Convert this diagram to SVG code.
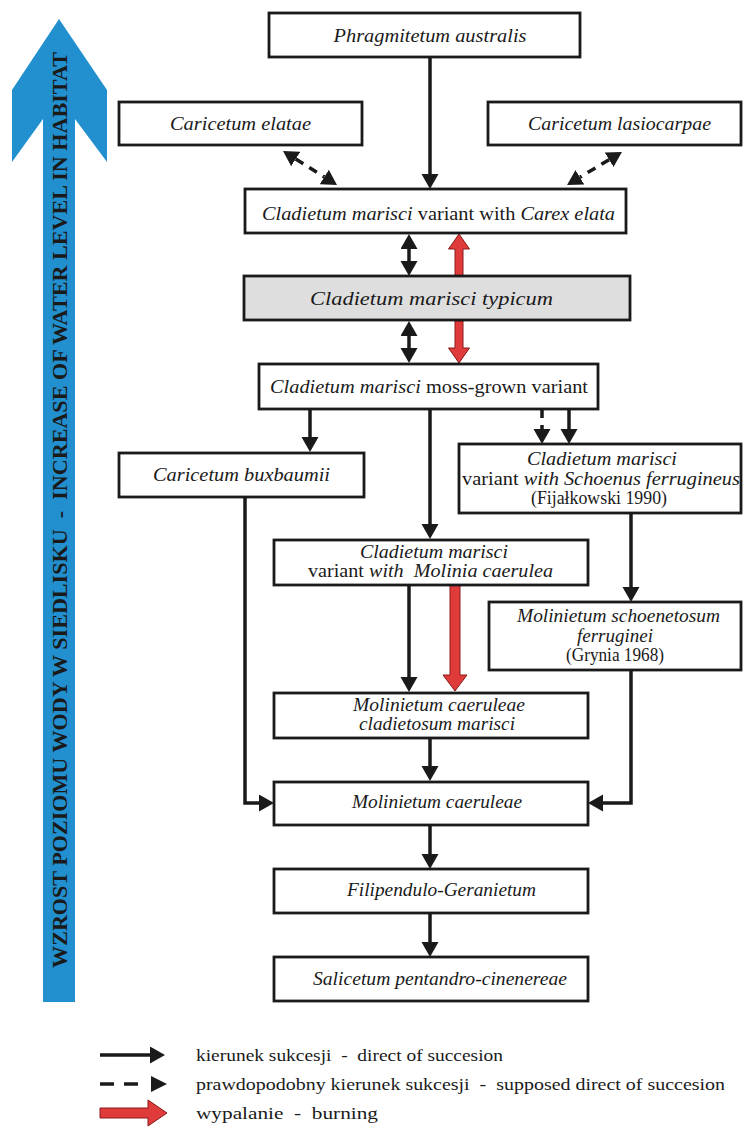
<svg xmlns="http://www.w3.org/2000/svg" width="743" height="1127" viewBox="0 0 743 1127" font-family="'Liberation Serif', 'DejaVu Serif', serif">
<style>
.box{fill:#fff;stroke:#1a1a1a;stroke-width:2.8}
.gbox{fill:#dedede;stroke:#1a1a1a;stroke-width:2.8}
.t{font-size:19px;text-anchor:middle;font-style:italic;fill:#1a1a1a}
.r{font-style:normal}
.i{font-style:italic}
.ln{stroke:#1a1a1a;stroke-width:3.5;fill:none}
.dash{stroke:#1a1a1a;stroke-width:3.5;fill:none;stroke-dasharray:9,7}
.red{fill:#e03b3b;stroke:#8a1a1a;stroke-width:1}
.leg{font-size:17px;fill:#1a1a1a;white-space:pre}
</style>
<defs>
<marker id="ah" markerWidth="16" markerHeight="18" refX="0" refY="8.5" orient="auto-start-reverse" markerUnits="userSpaceOnUse"><path d="M0,0 L15,8.5 L0,17 z" fill="#1a1a1a"/></marker>
</defs>

<g id="water-level-arrow">
<polygon points="59,19 107,90 107,162 75,119 75,1002 43,1002 43,119 12,162 12,90" fill="#2290cf"/>
<text transform="translate(67,510) rotate(-90)" text-anchor="middle" font-family="'Liberation Serif', 'DejaVu Serif', serif" font-size="21" font-weight="bold" fill="#1a1a1a" textLength="916" lengthAdjust="spacingAndGlyphs" xml:space="preserve">WZROST POZIOMU WODY W SIEDLISKU  -  INCREASE OF WATER LEVEL IN HABITAT</text>
</g>

<g id="connectors">
<line class="ln" x1="430" y1="57" x2="430" y2="174" marker-end="url(#ah)"/>
<line class="dash" x1="295.7" y1="159" x2="324.3" y2="177" stroke-dasharray="8,6" marker-start="url(#ah)" marker-end="url(#ah)"/>
<line class="dash" x1="609.1" y1="159.7" x2="579.9" y2="177.3" stroke-dasharray="8,6" marker-start="url(#ah)" marker-end="url(#ah)"/>
<line class="ln" x1="409" y1="249" x2="409" y2="261" marker-start="url(#ah)" marker-end="url(#ah)"/>
<polygon class="red" points="455,276 463,276 463,249 469.5,249 459,234 448.5,249 455,249"/>
<line class="ln" x1="409" y1="336" x2="409" y2="348" marker-start="url(#ah)" marker-end="url(#ah)"/>
<polygon class="red" points="455,321 463,321 463,348 469.5,348 459,363 448.5,348 455,348"/>
<line class="ln" x1="310" y1="409" x2="310" y2="437" marker-end="url(#ah)"/>
<line class="ln" x1="430" y1="409" x2="430" y2="524" marker-end="url(#ah)"/>
<line class="dash" x1="542" y1="409" x2="542" y2="429" stroke-dasharray="7,6" marker-end="url(#ah)"/>
<line class="ln" x1="569" y1="409" x2="569" y2="429" marker-end="url(#ah)"/>
<line class="ln" x1="631" y1="513" x2="631" y2="587" marker-end="url(#ah)"/>
<line class="ln" x1="409" y1="585" x2="409" y2="677" marker-end="url(#ah)"/>
<polygon class="red" points="450,585 460,585 460,675 467,675 455,691 443,675 450,675"/>
<line class="ln" x1="430" y1="738" x2="430" y2="766" marker-end="url(#ah)"/>
<polyline class="ln" points="245,497 245,803 259,803" marker-end="url(#ah)"/>
<polyline class="ln" points="631,670 631,803 603,803" marker-end="url(#ah)"/>
<line class="ln" x1="430" y1="825" x2="430" y2="854" marker-end="url(#ah)"/>
<line class="ln" x1="430" y1="913" x2="430" y2="942" marker-end="url(#ah)"/>
</g>

<g id="n-phragmitetum"><rect class="box" x="269" y="13" width="311" height="44"/><text class="t" x="430" y="42" textLength="193" lengthAdjust="spacingAndGlyphs">Phragmitetum australis</text></g>
<g id="n-caricetum-elatae"><rect class="box" x="119" y="102" width="243" height="43"/><text class="t" x="240.5" y="130" textLength="141" lengthAdjust="spacingAndGlyphs">Caricetum elatae</text></g>
<g id="n-caricetum-lasiocarpae"><rect class="box" x="488" y="102" width="253" height="43"/><text class="t" x="619.5" y="130" textLength="183" lengthAdjust="spacingAndGlyphs">Caricetum lasiocarpae</text></g>
<g id="n-carex-elata"><rect class="box" x="245" y="189" width="381" height="44"/><text class="t" x="438.5" y="220" textLength="353" lengthAdjust="spacingAndGlyphs"><tspan class="i">Cladietum marisci</tspan><tspan class="r"> variant with </tspan><tspan class="i">Carex elata</tspan></text></g>
<g id="n-typicum"><rect class="gbox" x="244" y="276" width="386" height="44"/><text class="t" x="431.5" y="305" font-size="22" textLength="243" lengthAdjust="spacingAndGlyphs">Cladietum marisci typicum</text></g>
<g id="n-moss-grown"><rect class="box" x="259" y="364" width="339" height="45"/><text class="t" x="429" y="393" textLength="318" lengthAdjust="spacingAndGlyphs"><tspan class="i">Cladietum marisci</tspan><tspan class="r"> moss-grown variant</tspan></text></g>
<g id="n-buxbaumii"><rect class="box" x="119" y="453" width="245" height="44"/><text class="t" x="241.5" y="481" textLength="177" lengthAdjust="spacingAndGlyphs">Caricetum buxbaumii</text></g>
<g id="n-schoenus"><rect class="box" x="459" y="444" width="282" height="69"/>
<text class="t" x="602" y="465" textLength="150" lengthAdjust="spacingAndGlyphs">Cladietum marisci</text>
<text class="t" x="601" y="485" textLength="278" lengthAdjust="spacingAndGlyphs"><tspan class="r">variant </tspan><tspan class="i">with Schoenus ferrugineus</tspan></text>
<text class="t r" x="599" y="504" font-size="17" textLength="136" lengthAdjust="spacingAndGlyphs">(Fijałkowski 1990)</text></g>
<g id="n-molinia-variant"><rect class="box" x="274" y="540" width="314" height="45"/>
<text class="t" x="434" y="558" textLength="148" lengthAdjust="spacingAndGlyphs">Cladietum marisci</text>
<text class="t" x="430.5" y="577" textLength="245" lengthAdjust="spacingAndGlyphs" xml:space="preserve"><tspan class="r">variant </tspan><tspan class="i">with  Molinia caerulea</tspan></text></g>
<g id="n-schoenetosum"><rect class="box" x="489" y="602" width="252" height="68"/>
<text class="t" x="618.5" y="622" textLength="203" lengthAdjust="spacingAndGlyphs">Molinietum schoenetosum</text>
<text class="t" x="615" y="642" textLength="76" lengthAdjust="spacingAndGlyphs">ferruginei</text>
<text class="t r" x="615" y="661" font-size="18" textLength="98" lengthAdjust="spacingAndGlyphs">(Grynia 1968)</text></g>
<g id="n-cladietosum"><rect class="box" x="274" y="693" width="314" height="45"/>
<text class="t" x="439" y="711" font-size="17" textLength="172" lengthAdjust="spacingAndGlyphs">Molinietum caeruleae</text>
<text class="t" x="437" y="730" font-size="17" textLength="156" lengthAdjust="spacingAndGlyphs">cladietosum marisci</text></g>
<g id="n-molinietum"><rect class="box" x="274" y="782" width="314" height="43"/><text class="t" x="437" y="808" textLength="170" lengthAdjust="spacingAndGlyphs">Molinietum caeruleae</text></g>
<g id="n-filipendulo"><rect class="box" x="274" y="869" width="314" height="44"/><text class="t" x="441.5" y="896" textLength="189" lengthAdjust="spacingAndGlyphs">Filipendulo-Geranietum</text></g>
<g id="n-salicetum"><rect class="box" x="274" y="957" width="314" height="44"/><text class="t" x="440" y="985" textLength="254" lengthAdjust="spacingAndGlyphs">Salicetum pentandro-cinenereae</text></g>

<g id="legend">
<line class="ln" x1="100" y1="1055" x2="150" y2="1055" marker-end="url(#ah)"/>
<line x1="100" y1="1084" x2="144" y2="1084" stroke="#1a1a1a" stroke-width="3.5" stroke-dasharray="14,10"/>
<polygon points="151,1076 167,1084 151,1092" fill="#1a1a1a"/>
<polygon class="red" points="100,1108 148,1108 148,1100 167,1113 148,1126 148,1118 100,1118"/>
<text class="leg" x="196" y="1061" textLength="307" lengthAdjust="spacingAndGlyphs" xml:space="preserve">kierunek sukcesji  -  direct of succesion</text>
<text class="leg" x="196" y="1090" textLength="529" lengthAdjust="spacingAndGlyphs" xml:space="preserve">prawdopodobny kierunek sukcesji  -  supposed direct of succesion</text>
<text class="leg" x="196" y="1119" textLength="182" lengthAdjust="spacingAndGlyphs" xml:space="preserve">wypalanie  -  burning</text>
</g>
</svg>
